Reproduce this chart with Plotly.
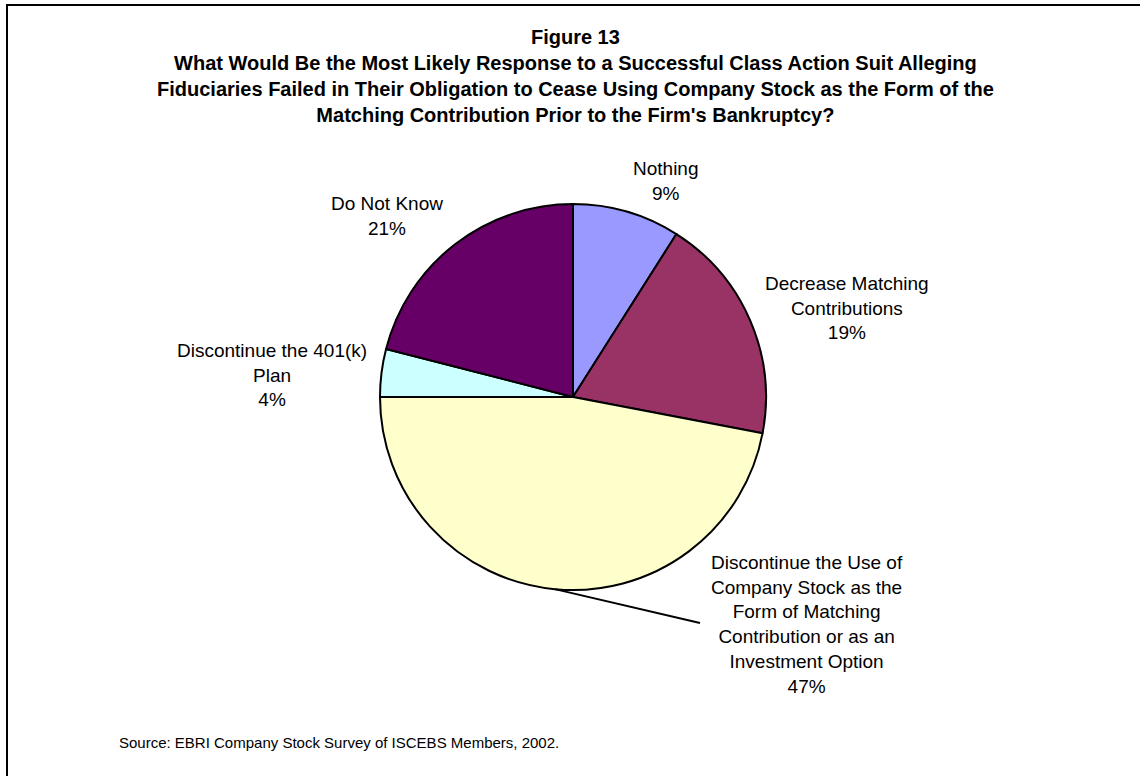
import math
import plotly.graph_objects as go

W, H = 1140, 776

labels = ["Nothing", "Decrease Matching Contributions",
          "Discontinue the Use of Company Stock as the Form of Matching Contribution or as an Investment Option",
          "Discontinue the 401(k) Plan", "Do Not Know"]
values = [9, 19, 47, 4, 21]
label_text = ["Nothing<br>9%",
              "Decrease Matching<br>Contributions<br>19%",
              "Discontinue the Use of<br>Company Stock as the<br>Form of Matching<br>Contribution or as an<br>Investment Option<br>47%",
              "Discontinue the 401(k)<br>Plan<br>4%",
              "Do Not Know<br>21%"]
colors = ["#9999FF", "#993366", "#FFFFCC", "#CCFFFF", "#660066"]
# label block centre positions (pixels)
label_pos = [(666, 181), (847, 308), (807, 624), (272, 375), (387, 216)]

title = ("<b>Figure 13</b><br><b>What Would Be the Most Likely Response to a Successful Class Action Suit Alleging</b><br>"
         "<b>Fiduciaries Failed in Their Obligation to Cease Using Company Stock as the Form of the</b><br>"
         "<b>Matching Contribution Prior to the Firm's Bankruptcy?</b>")
source = "Source: EBRI Company Stock Survey of ISCEBS Members, 2002."

cx, cy, r = 573, 397, 193

fig = go.Figure()
fig.add_trace(go.Pie(
    labels=labels, values=values, sort=False, direction="clockwise", rotation=0,
    marker=dict(colors=colors, line=dict(color="#000000", width=2)),
    textinfo="none", hoverinfo="label+percent", showlegend=False,
    domain=dict(x=[(cx - r) / W, (cx + r) / W], y=[1 - (cy + r) / H, 1 - (cy - r) / H]),
))

FONT = "Liberation Sans, Arial, sans-serif"
annotations = []
for txt, (px, py) in zip(label_text, label_pos):
    annotations.append(dict(x=px / W, y=1 - py / H, xref="paper", yref="paper",
                            text=txt, showarrow=False, xanchor="center", yanchor="middle",
                            align="center", font=dict(family=FONT, size=19, color="#000000")))
annotations.append(dict(x=575 / W, y=1 - 76 / H, xref="paper", yref="paper", text=title,
                        showarrow=False, xanchor="center", yanchor="middle", align="center",
                        font=dict(family=FONT, size=20, color="#000000")))
annotations.append(dict(x=117 / W, y=1 - 742 / H, xref="paper", yref="paper", text=source,
                        showarrow=False, xanchor="left", yanchor="middle", align="left",
                        font=dict(family=FONT, size=15, color="#000000")))

# leader line for the 47% slice, from the slice's mid-angle on the rim
total = sum(values)
start = sum(values[:2]) / total * 360
mid = start + values[2] / total * 360 / 2
sx = cx + r * math.sin(math.radians(mid))
sy = cy - r * math.cos(math.radians(mid))
ex, ey = 700, 623

shapes = [
    dict(type="line", xref="paper", yref="paper", x0=sx / W, y0=1 - sy / H, x1=ex / W, y1=1 - ey / H,
         line=dict(color="#000000", width=2)),
    dict(type="line", xref="paper", yref="paper", x0=6 / W, y0=1 - 5 / H, x1=1.01, y1=1 - 5 / H,
         line=dict(color="#000000", width=2)),
    dict(type="line", xref="paper", yref="paper", x0=7 / W, y0=1 - 4 / H, x1=7 / W, y1=-0.01,
         line=dict(color="#000000", width=2)),
]

fig.update_layout(
    width=W, height=H, margin=dict(l=0, r=0, t=0, b=0),
    paper_bgcolor="#FFFFFF", plot_bgcolor="#FFFFFF",
    annotations=annotations, shapes=shapes,
    font=dict(family=FONT),
)

fig.write_html("out.html")
